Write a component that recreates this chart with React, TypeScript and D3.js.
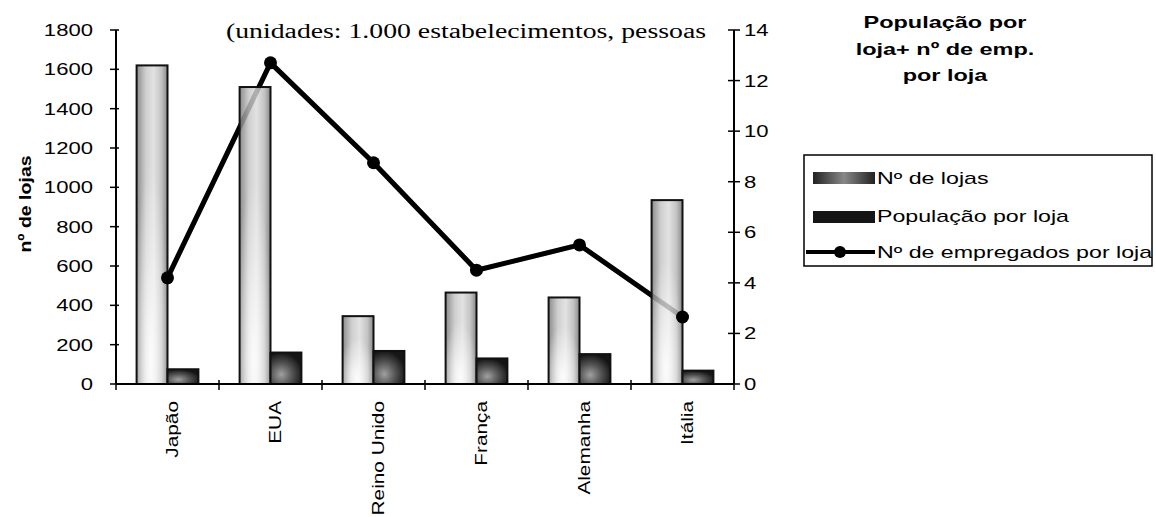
import React from "react";
import * as d3 from "d3";

// Chart data
const categories = ["Japão", "EUA", "Reino Unido", "França", "Alemanha", "Itália"];
const numLojas = [1620, 1510, 345, 465, 440, 935];
const populacaoPorLoja = [75, 160, 168, 130, 152, 68];
const empregadosPorLoja = [4.2, 12.7, 8.75, 4.5, 5.5, 2.65];
const leftTicks = [0, 200, 400, 600, 800, 1000, 1200, 1400, 1600, 1800];
const rightTicks = [0, 2, 4, 6, 8, 10, 12, 14];
const titleLines = ["População por", "loja+ nº de emp.", "por loja"];
const legendLabels = ["Nº de lojas", "População por loja", "Nº de empregados por loja"];

const W = 1156;
const H = 517;
const plot = { left: 116, right: 734, top: 30, bottom: 384 };
const sans = "'Liberation Sans', Arial, sans-serif";
const serif = "'Liberation Serif', 'Times New Roman', serif";

// Text drawn with a wide horizontal stretch along its own direction
function WideText(props: {
  x: number;
  y: number;
  rotate?: number;
  sx: number;
  size: number;
  anchor?: string;
  bold?: boolean;
  family?: string;
  children: React.ReactNode;
}) {
  const { x, y, rotate = 0, sx, size, anchor = "start", bold, family = sans, children } = props;
  return (
    <text
      transform={`translate(${x},${y}) rotate(${rotate}) scale(${sx},1)`}
      textAnchor={anchor}
      fontFamily={family}
      fontSize={size}
      fontWeight={bold ? "bold" : "normal"}
      fill="#000"
    >
      {children}
    </text>
  );
}

export default function App() {
  const x = d3.scaleBand<string>().domain(categories).range([plot.left, plot.right]).paddingInner(0).paddingOuter(0);
  const yL = d3.scaleLinear().domain([0, 1800]).range([plot.bottom, plot.top]);
  const yR = d3.scaleLinear().domain([0, 14]).range([plot.bottom, plot.top]);
  const bw = x.bandwidth() * 0.3;
  const center = (c: string) => (x(c) as number) + x.bandwidth() / 2;

  const linePath = d3
    .line<number>()
    .x((_, i) => center(categories[i]))
    .y((d) => yR(d))(empregadosPorLoja) as string;

  const boundaries = d3.range(categories.length + 1).map((i) => plot.left + i * x.bandwidth());

  return (
    <svg width={W} height={H} style={{ position: "absolute", left: 0, top: 0, background: "#fff" }}>
      <defs>
        <linearGradient id="gLojasH" x1="0" x2="1" y1="0" y2="0">
          <stop offset="0%" stopColor="#8c8c8c" />
          <stop offset="30%" stopColor="#cfcfcf" />
          <stop offset="55%" stopColor="#e2e2e2" />
          <stop offset="80%" stopColor="#c4c4c4" />
          <stop offset="100%" stopColor="#8a8a8a" />
        </linearGradient>
        <radialGradient id="gGlow" cx="0.45" cy="0.92" r="0.6">
          <stop offset="0%" stopColor="#ffffff" stopOpacity={0.9} />
          <stop offset="100%" stopColor="#ffffff" stopOpacity={0} />
        </radialGradient>
        <radialGradient id="gPop" cx="0.35" cy="0.7" r="0.7">
          <stop offset="0%" stopColor="#a0a0a0" />
          <stop offset="50%" stopColor="#555" />
          <stop offset="100%" stopColor="#151515" />
        </radialGradient>
        <linearGradient id="gLegLojas" x1="0" x2="1" y1="0" y2="0">
          <stop offset="0%" stopColor="#222" />
          <stop offset="50%" stopColor="#888" />
          <stop offset="100%" stopColor="#222" />
        </linearGradient>
      </defs>

      {/* Line: employees per store (under the bars) */}
      <path d={linePath} fill="none" stroke="#000" strokeWidth={5} strokeLinejoin="round" />

      {/* Bars: number of stores */}
      {categories.map((c, i) => {
        const x0 = center(c) - bw;
        const y0 = yL(numLojas[i]);
        const h = plot.bottom - y0;
        return (
          <g key={"l" + c}>
            <rect x={x0} y={y0} width={bw} height={h} fill="url(#gLojasH)" />
            <rect x={x0} y={y0} width={bw} height={h} fill="url(#gGlow)" stroke="#111" strokeWidth={2} />
          </g>
        );
      })}

      {/* Bars: population per store */}
      {categories.map((c, i) => (
        <rect
          key={"p" + c}
          x={center(c)}
          y={yL(populacaoPorLoja[i])}
          width={bw}
          height={plot.bottom - yL(populacaoPorLoja[i])}
          fill="url(#gPop)"
          stroke="#111"
          strokeWidth={2}
        />
      ))}

      {/* Faint trace of the line through the bars, then the markers */}
      <path d={linePath} fill="none" stroke="#000" strokeOpacity={0.22} strokeWidth={5} strokeLinejoin="round" />
      {empregadosPorLoja.map((v, i) => (
        <circle key={"pt" + i} cx={center(categories[i])} cy={yR(v)} r={6.5} fill="#000" />
      ))}

      {/* Left axis */}
      <line x1={plot.left} x2={plot.left} y1={plot.top} y2={plot.bottom} stroke="#000" strokeWidth={2} />
      {leftTicks.map((t) => (
        <g key={"lt" + t}>
          <line x1={plot.left - 6} x2={plot.left + 3} y1={yL(t)} y2={yL(t)} stroke="#000" strokeWidth={1.5} />
          <WideText x={93} y={yL(t) + 6} sx={1.3} size={17} anchor="end">
            {t}
          </WideText>
        </g>
      ))}
      <WideText x={31} y={204} rotate={-90} sx={1.15} size={17} anchor="middle" bold>
        nº de lojas
      </WideText>

      {/* Right axis */}
      <line x1={plot.right} x2={plot.right} y1={plot.top} y2={plot.bottom} stroke="#000" strokeWidth={2} />
      {rightTicks.map((t) => (
        <g key={"rt" + t}>
          <line x1={plot.right - 6} x2={plot.right + 6} y1={yR(t)} y2={yR(t)} stroke="#000" strokeWidth={1.5} />
          <WideText x={744} y={yR(t) + 6} sx={1.3} size={17}>
            {t}
          </WideText>
        </g>
      ))}

      {/* Category axis */}
      <line x1={plot.left} x2={plot.right} y1={plot.bottom} y2={plot.bottom} stroke="#000" strokeWidth={2} />
      {boundaries.map((bx, i) => (
        <line key={"xt" + i} x1={bx} x2={bx} y1={plot.bottom - 4} y2={plot.bottom + 6} stroke="#000" strokeWidth={1.5} />
      ))}
      {categories.map((c) => (
        <WideText key={"xl" + c} x={center(c) + 10} y={plot.bottom + 17} rotate={-90} sx={1.3} size={16} anchor="end">
          {c}
        </WideText>
      ))}

      {/* Units note */}
      <text x={226} y={38} fontFamily={serif} fontSize={20} fill="#000" textLength={480} lengthAdjust="spacingAndGlyphs">
        (unidades: 1.000 estabelecimentos, pessoas
      </text>

      {/* Title */}
      {titleLines.map((s, i) => (
        <WideText key={"t" + i} x={945} y={28 + i * 26.5} sx={1.38} size={17} anchor="middle" bold>
          {s}
        </WideText>
      ))}

      {/* Legend */}
      <rect x={804} y={155} width={348} height={111} fill="#fff" stroke="#000" strokeWidth={1.5} />
      <rect x={813} y={172} width={62} height={12} fill="url(#gLegLojas)" />
      <rect x={813} y={211} width={62} height={12} fill="#151515" />
      <line x1={806} x2={875} y1={252} y2={252} stroke="#000" strokeWidth={4} />
      <circle cx={840} cy={252} r={6} fill="#000" />
      {legendLabels.map((s, i) => (
        <WideText key={"lg" + i} x={877} y={[184, 222, 258][i]} sx={1.45} size={16}>
          {s}
        </WideText>
      ))}
    </svg>
  );
}
